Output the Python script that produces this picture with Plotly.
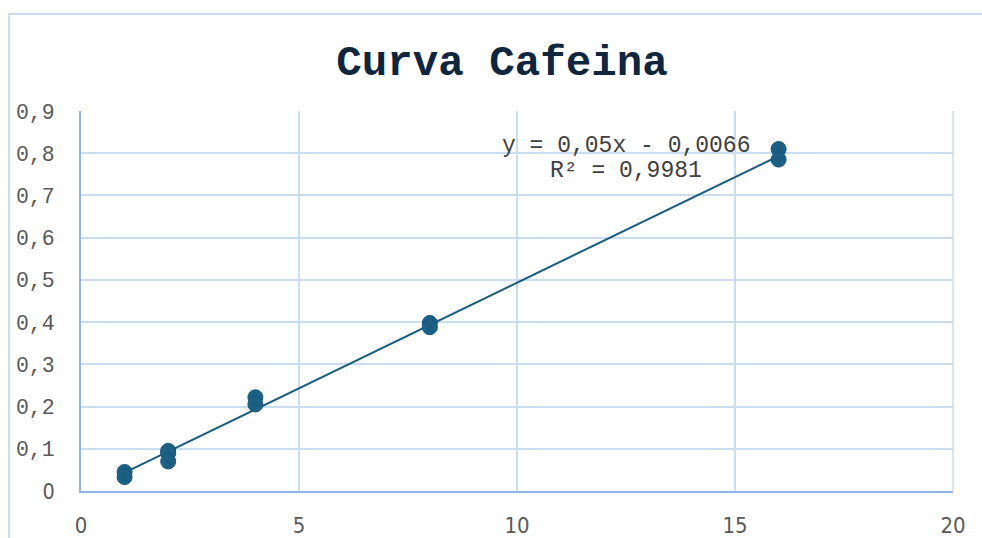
import plotly.graph_objects as go

# Calibration measurements: caffeine concentration vs. absorbance
concentracion = [1, 1, 2, 2, 2, 4, 4, 8, 8, 16, 16]
absorbancia = [0.045, 0.033, 0.095, 0.090, 0.070, 0.222, 0.205, 0.398, 0.388, 0.810, 0.785]

# Linear trendline reported for the calibration
pendiente = 0.05
intercepto = -0.0066
r2 = 0.9981

x_ticks = [0, 5, 10, 15, 20]
y_ticks = [0, 0.1, 0.2, 0.3, 0.4, 0.5, 0.6, 0.7, 0.8, 0.9]

MONO = "Liberation Mono, Courier New, monospace"
NARROW = "Liberation Sans Narrow, Arial Narrow, DejaVu Sans Condensed, sans-serif"

W, H = 982, 538
L, R, T, B = 81, 29, 111, 47
pw, ph = W - L - R, H - T - B


def px_to_paper_x(px):
    return (px - L) / pw


def px_to_paper_y(py):
    return (H - B - py) / ph


x_line = [min(concentracion), max(concentracion)]
y_line = [pendiente * v + intercepto for v in x_line]

fig = go.Figure()

fig.add_trace(go.Scatter(
    x=x_line, y=y_line, mode="lines",
    line=dict(color="#195d80", width=2),
    hoverinfo="skip", showlegend=False,
))

fig.add_trace(go.Scatter(
    x=concentracion, y=absorbancia, mode="markers",
    marker=dict(size=15, color="#1d6388",
                line=dict(color="#17557a", width=1),
                gradient=dict(type="radial", color="#1a5b7e")),
    showlegend=False,
))


def fmt_y(v):
    if v == 0:
        return f'<span style="font-family:{NARROW}">0</span>'
    return f"{v:.1f}".replace(".", ",")


fig.update_layout(
    width=W, height=H,
    margin=dict(l=L, r=R, t=T, b=B, autoexpand=False),
    paper_bgcolor="white", plot_bgcolor="white",
    separators=", ",
    title=dict(
        text="<b>Curva Cafeina</b>",
        font=dict(family=MONO, size=42.5, color="#10263f"),
        x=px_to_paper_x(502), xref="paper", xanchor="center",
        y=1 - 60 / H, yref="container", yanchor="middle",
    ),
    xaxis=dict(
        range=[0, 20], tickvals=x_ticks, ticktext=[str(v) for v in x_ticks],
        showgrid=True, gridcolor="#cadcf0", gridwidth=1.5,
        showline=True, linecolor="#8fb4e2", linewidth=2,
        zeroline=False, ticks="", ticklabelstandoff=14,
        tickfont=dict(family=NARROW, size=22, color="#595959"),
    ),
    yaxis=dict(
        range=[0, 0.9], tickvals=y_ticks, ticktext=[fmt_y(v) for v in y_ticks],
        showgrid=True, gridcolor="#cadcf0", gridwidth=1.5,
        showline=True, linecolor="#8fb4e2", linewidth=2,
        zeroline=False, ticks="", ticklabelstandoff=20,
        tickfont=dict(family=MONO, size=21.5, color="#595959"),
    ),
    shapes=[
        # right edge of the plot frame (gridline colour)
        dict(type="line", xref="paper", yref="paper", x0=1, x1=1, y0=0, y1=1,
             line=dict(color="#cadcf0", width=1.5), layer="below"),
        # chart area border
        dict(type="rect", xref="paper", yref="paper",
             x0=px_to_paper_x(9), x1=px_to_paper_x(1000),
             y0=px_to_paper_y(560), y1=px_to_paper_y(14),
             line=dict(color="#c9dcf2", width=2), fillcolor="rgba(0,0,0,0)"),
    ],
    annotations=[
        dict(text=f"y = {pendiente:.2f}x - {abs(intercepto):.4f}".replace(".", ","),
             x=12.5, y=0.817, xref="x", yref="y", showarrow=False,
             xanchor="center", yanchor="middle",
             font=dict(family=MONO, size=23, color="#404040")),
        dict(text=f"R² = {r2:.4f}".replace(".", ","),
             x=12.5, y=0.757, xref="x", yref="y", showarrow=False,
             xanchor="center", yanchor="middle",
             font=dict(family=MONO, size=23, color="#404040")),
    ],
)

fig.write_html("out.html")
